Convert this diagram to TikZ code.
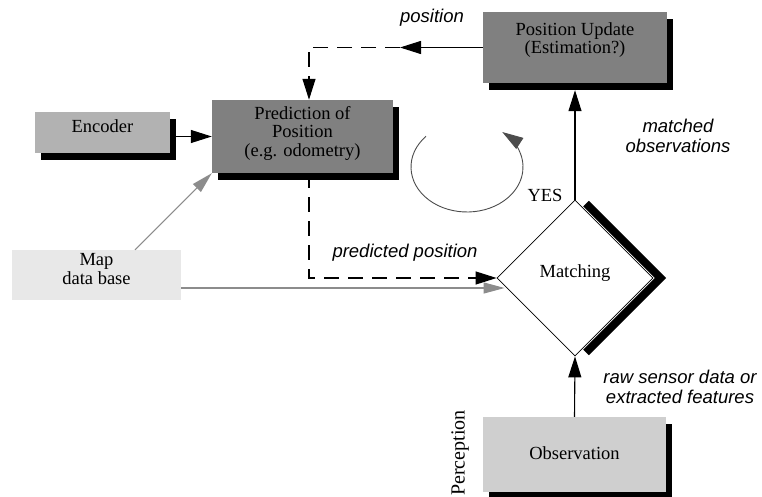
\documentclass[tikz,border=0pt]{standalone}
\usepackage{fontspec}
\setmainfont{Liberation Serif}
\newfontfamily\labelfont{Liberation Sans}
\usetikzlibrary{arrows.meta,shapes.geometric,shadows}

\definecolor{boxdark}{gray}{0.50}
\definecolor{boxmid}{gray}{0.70}
\definecolor{boxlight}{gray}{0.81}
\definecolor{boxpale}{gray}{0.91}
\definecolor{linegray}{gray}{0.55}
\definecolor{loopgray}{gray}{0.30}

\begin{document}
\begin{tikzpicture}[x=1pt,y=-1pt,
  boxtext/.style={font=\fontsize{18.5}{18.5}\selectfont, align=center, inner sep=0},
  flowlabel/.style={font=\labelfont\itshape\fontsize{18.5}{20}\selectfont, align=center, inner sep=0},
  shadowbox/.style={inner sep=0, drop shadow={shadow xshift=6pt, shadow yshift=-7pt, opacity=1, fill=black}},
  tipblack/.style={-{Triangle[length=21pt,width=13pt]}},
  tipgray/.style={-{Triangle[length=21pt,width=11pt,fill=linegray]}},
  flow/.style={line width=1.1pt, black, tipblack},
  dashflow/.style={line width=1.1pt, black, dash pattern=on 15pt off 9pt},
  grayflow/.style={line width=1.1pt, linegray, tipgray},
]
\useasboundingbox (0,0) rectangle (762,497);

% boxes
\node[shadowbox, fill=boxmid, minimum width=135pt, minimum height=41pt] (enc) at (102.5,132.5) {};
\node[boxtext] (enctext) at (102.5,126) {Encoder};

\node[shadowbox, fill=boxdark, minimum width=181pt, minimum height=73pt] (pred) at (302.5,136.5) {};
\node[boxtext] (predtext) at (302.5,133) {Prediction of\\Position\\(e.g. odometry)};

\node[shadowbox, fill=boxdark, minimum width=184pt, minimum height=71pt] (pu) at (575,47.5) {};
\node[boxtext] (putext) at (575,40) {Position Update\\(Estimation?)};

\node[shadowbox, fill=boxlight, minimum width=183pt, minimum height=75pt] (obs) at (574.5,454.5) {};
\node[boxtext] (obstext) at (574.5,453) {Observation};

\node[fill=boxpale, inner sep=0, minimum width=169pt, minimum height=50pt] (map) at (96.5,275) {};
\node[boxtext] (maptext) at (96.5,269) {Map\\data base};

% matching diamond with its heavy shadow edge
\node[draw, line width=0.8pt, diamond, aspect=1, inner sep=0, minimum width=156pt, minimum height=156pt] (match) at (575,278) {};
\draw[line width=8pt, black] ([shift={(11,4)}]match.north) -- ([shift={(7,0)}]match.east) -- ([shift={(11,-4)}]match.south);
\node[boxtext] (matchtext) at (575,273) {Matching};

% side texts
\node[boxtext] (yes) at (545,195) {YES};
\node[boxtext, font=\fontsize{20}{20}\selectfont, rotate=90] (perc) at (460,453) {Perception};

% connectors
\draw[flow] (enc.east |- pred.west) -- (pred.west);
\coordinate (posdash) at (400,47.5);
\draw[flow] (pu.west) -- (posdash);
\draw[dashflow, tipblack] (posdash) -| ([shift={(6.5,0)}]pred.north);
\draw[dashflow, tipblack] ([shift={(6.5,0)}]pred.south) |- (match.west);
\draw[grayflow] ([shift={(38.5,0)}]map.north) -- (pred.south west);
\draw[grayflow] ([shift={(0,13)}]map.east) -- ([shift={(8,10)}]match.west);
\draw[flow] (match.north) -- ([shift={(0,7)}]pu.south);
\draw[flow] (obs.north) -- (match.south);

% update loop
\coordinate (loopc) at (467,167);
\draw[line width=0.9pt, loopgray, tipblack] ([shift={(223:56 and 45)}]loopc) arc[start angle=223, end angle=-51, x radius=56, y radius=45];

% flow labels
\node[flowlabel] (lblpos) at (432,18) {position};
\node[flowlabel] (lblpred) at (405,253) {predicted position};
\node[flowlabel] (lblmatched) at (678,136) {matched\\observations};
\node[flowlabel] (lblraw) at (680,387) {raw sensor data or\\extracted features};
\end{tikzpicture}
\end{document}
